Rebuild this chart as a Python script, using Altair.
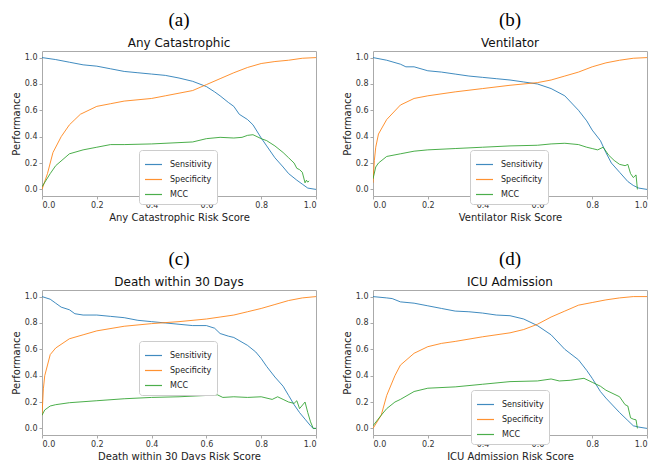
import altair as alt
import pandas as pd

series_names = ["Sensitivity", "Specificity", "MCC"]
series_colors = ["#1f77b4", "#ff7f0e", "#2ca02c"]

# Panel (a) Any Catastrophic
a_sens_x = [0, 0.05, 0.1, 0.15, 0.2, 0.25, 0.3, 0.35, 0.4, 0.45, 0.5, 0.55, 0.6, 0.63, 0.65, 0.68, 0.7, 0.72, 0.75, 0.77, 0.8, 0.82, 0.85, 0.88, 0.9, 0.93, 0.95, 0.97, 1.0]
a_sens_y = [1.0, 0.985, 0.965, 0.945, 0.935, 0.915, 0.895, 0.885, 0.875, 0.865, 0.845, 0.82, 0.78, 0.74, 0.71, 0.66, 0.63, 0.57, 0.53, 0.49, 0.39, 0.33, 0.24, 0.17, 0.12, 0.07, 0.04, 0.01, 0.0]
a_spec_x = [0, 0.02, 0.04, 0.07, 0.1, 0.12, 0.14, 0.2, 0.25, 0.3, 0.4, 0.45, 0.5, 0.55, 0.6, 0.65, 0.7, 0.75, 0.8, 0.85, 0.9, 0.95, 1.0]
a_spec_y = [0.0, 0.12, 0.28, 0.4, 0.49, 0.53, 0.57, 0.63, 0.65, 0.67, 0.69, 0.71, 0.73, 0.75, 0.795, 0.84, 0.885, 0.925, 0.955, 0.97, 0.98, 0.995, 1.0]
a_mcc_x = [0, 0.03, 0.05, 0.1, 0.15, 0.2, 0.25, 0.3, 0.4, 0.5, 0.55, 0.6, 0.65, 0.7, 0.73, 0.75, 0.77, 0.8, 0.82, 0.85, 0.88, 0.9, 0.92, 0.93, 0.94, 0.95, 0.96, 0.965, 0.97, 0.975]
a_mcc_y = [0.02, 0.12, 0.18, 0.27, 0.3, 0.32, 0.34, 0.34, 0.345, 0.355, 0.36, 0.385, 0.395, 0.39, 0.395, 0.41, 0.415, 0.385, 0.37, 0.33, 0.28, 0.24, 0.2, 0.16, 0.15, 0.13, 0.05, 0.07, 0.055, 0.065]

# Panel (b) Ventilator
b_sens_x = [0, 0.05, 0.1, 0.12, 0.15, 0.2, 0.25, 0.3, 0.35, 0.4, 0.45, 0.5, 0.55, 0.6, 0.65, 0.7, 0.75, 0.78, 0.8, 0.83, 0.85, 0.87, 0.9, 0.93, 0.95, 0.97, 1.0]
b_sens_y = [1.0, 0.98, 0.95, 0.93, 0.93, 0.9, 0.89, 0.875, 0.86, 0.85, 0.84, 0.83, 0.815, 0.8, 0.765, 0.71, 0.6, 0.52, 0.45, 0.37, 0.28, 0.2, 0.13, 0.06, 0.03, 0.01, 0.0]
b_spec_x = [0, 0.005, 0.01, 0.02, 0.05, 0.1, 0.15, 0.2, 0.3, 0.4, 0.5, 0.6, 0.65, 0.7, 0.75, 0.8, 0.85, 0.9, 0.95, 1.0]
b_spec_y = [0.05, 0.22, 0.32, 0.42, 0.53, 0.64, 0.69, 0.71, 0.74, 0.765, 0.79, 0.81, 0.83, 0.86, 0.89, 0.93, 0.96, 0.98, 0.995, 1.0]
b_mcc_x = [0, 0.01, 0.02, 0.05, 0.1, 0.15, 0.2, 0.3, 0.4, 0.5, 0.6, 0.65, 0.7, 0.75, 0.78, 0.8, 0.82, 0.84, 0.86, 0.88, 0.9, 0.92, 0.93, 0.94, 0.95, 0.96, 0.965]
b_mcc_y = [0.08, 0.17, 0.2, 0.25, 0.27, 0.29, 0.3, 0.31, 0.32, 0.33, 0.335, 0.345, 0.35, 0.34, 0.32, 0.31, 0.3, 0.32, 0.26, 0.22, 0.19, 0.18, 0.19, 0.12, 0.09, 0.11, 0.0]

# Panel (c) Death within 30 Days
c_sens_x = [0, 0.03, 0.05, 0.07, 0.1, 0.12, 0.15, 0.2, 0.25, 0.3, 0.35, 0.4, 0.45, 0.5, 0.55, 0.6, 0.63, 0.65, 0.68, 0.7, 0.75, 0.78, 0.8, 0.82, 0.85, 0.88, 0.9, 0.92, 0.94, 0.96, 0.98, 0.99, 1.0]
c_sens_y = [1.0, 0.98, 0.95, 0.92, 0.9, 0.87, 0.86, 0.86, 0.85, 0.84, 0.82, 0.81, 0.8, 0.79, 0.78, 0.78, 0.76, 0.72, 0.7, 0.69, 0.63, 0.58, 0.53, 0.47, 0.39, 0.32, 0.25, 0.18, 0.12, 0.07, 0.02, 0.0, 0.0]
c_spec_x = [0, 0.005, 0.01, 0.03, 0.05, 0.1, 0.15, 0.2, 0.3, 0.4, 0.5, 0.6, 0.65, 0.7, 0.75, 0.8, 0.85, 0.9, 0.95, 1.0]
c_spec_y = [0.1, 0.3, 0.4, 0.56, 0.61, 0.68, 0.71, 0.74, 0.775, 0.795, 0.81, 0.83, 0.845, 0.86, 0.885, 0.91, 0.94, 0.97, 0.99, 1.0]
c_mcc_x = [0, 0.01, 0.03, 0.05, 0.1, 0.2, 0.3, 0.4, 0.5, 0.6, 0.64, 0.66, 0.7, 0.75, 0.8, 0.84, 0.86, 0.88, 0.9, 0.92, 0.93, 0.94, 0.96, 0.97, 0.98, 0.99, 1.0]
c_mcc_y = [0.1, 0.14, 0.17, 0.18, 0.195, 0.21, 0.225, 0.235, 0.24, 0.25, 0.255, 0.235, 0.24, 0.235, 0.24, 0.22, 0.24, 0.22, 0.2, 0.19, 0.21, 0.15, 0.2, 0.12, 0.05, 0.0, 0.0]

# Panel (d) ICU Admission
d_sens_x = [0, 0.05, 0.07, 0.1, 0.15, 0.2, 0.25, 0.3, 0.35, 0.4, 0.45, 0.5, 0.55, 0.6, 0.65, 0.7, 0.75, 0.78, 0.8, 0.83, 0.85, 0.9, 0.93, 0.95, 0.97, 1.0]
d_sens_y = [1.0, 0.99, 0.985, 0.96, 0.95, 0.93, 0.91, 0.89, 0.885, 0.875, 0.86, 0.855, 0.83, 0.78, 0.71, 0.6, 0.52, 0.44, 0.38, 0.28, 0.23, 0.12, 0.06, 0.02, 0.01, 0.0]
d_spec_x = [0, 0.03, 0.05, 0.08, 0.1, 0.15, 0.2, 0.25, 0.3, 0.4, 0.5, 0.55, 0.6, 0.65, 0.7, 0.75, 0.8, 0.85, 0.9, 0.95, 1.0]
d_spec_y = [0.0, 0.1, 0.25, 0.4, 0.48, 0.57, 0.62, 0.645, 0.66, 0.695, 0.725, 0.75, 0.79, 0.845, 0.89, 0.935, 0.955, 0.975, 0.99, 1.0, 1.0]
d_mcc_x = [0, 0.03, 0.05, 0.08, 0.1, 0.15, 0.2, 0.3, 0.4, 0.5, 0.6, 0.65, 0.68, 0.72, 0.77, 0.8, 0.83, 0.85, 0.9, 0.92, 0.93, 0.94, 0.95, 0.96, 0.965]
d_mcc_y = [0.02, 0.1, 0.15, 0.2, 0.22, 0.28, 0.305, 0.315, 0.335, 0.355, 0.36, 0.375, 0.36, 0.365, 0.38, 0.35, 0.32, 0.29, 0.24, 0.18, 0.17, 0.08, 0.07, 0.065, 0.0]

panel_letters = ["(a)", "(b)", "(c)", "(d)"]
panel_titles = ["Any Catastrophic", "Ventilator", "Death within 30 Days", "ICU Admission"]
panel_xlabels = ["Any Catastrophic Risk Score", "Ventilator Risk Score",
                 "Death within 30 Days Risk Score", "ICU Admission Risk Score"]
panel_data = [
    [(a_sens_x, a_sens_y), (a_spec_x, a_spec_y), (a_mcc_x, a_mcc_y)],
    [(b_sens_x, b_sens_y), (b_spec_x, b_spec_y), (b_mcc_x, b_mcc_y)],
    [(c_sens_x, c_sens_y), (c_spec_x, c_spec_y), (c_mcc_x, c_mcc_y)],
    [(d_sens_x, d_sens_y), (d_spec_x, d_spec_y), (d_mcc_x, d_mcc_y)],
]
legend_pos = [(97, 99), (97, 99), (97, 51), (98, 100)]

W, H = 274, 145
FONT = "DejaVu Sans"


def make_panel(i):
    rows = []
    for name, (xs, ys) in zip(series_names, panel_data[i]):
        for k, (x, y) in enumerate(zip(xs, ys)):
            rows.append({"score": x, "value": y, "series": name, "k": k})
    df = pd.DataFrame(rows)
    lx, ly = legend_pos[i]
    return alt.Chart(df).mark_line(strokeWidth=1.0, opacity=0.85, clip=True).encode(
        x=alt.X("score:Q", title=panel_xlabels[i],
                scale=alt.Scale(domain=[0, 1], nice=False, zero=False),
                axis=alt.Axis(values=[0, 0.2, 0.4, 0.6, 0.8, 1.0], format=".1f")),
        y=alt.Y("value:Q", title="Performance",
                scale=alt.Scale(domain=[-0.05, 1.05], nice=False, zero=False),
                axis=alt.Axis(values=[0, 0.2, 0.4, 0.6, 0.8, 1.0], format=".1f")),
        color=alt.Color("series:N", scale=alt.Scale(domain=series_names, range=series_colors),
                        legend=alt.Legend(title=None, orient="none", legendX=lx, legendY=ly,
                                          symbolType="stroke", symbolSize=289, symbolStrokeWidth=1.2,
                                          labelFont=FONT, labelFontSize=8, labelColor="#222",
                                          labelOffset=7, rowPadding=1, padding=5,
                                          strokeColor="#cccccc", fillColor="white", cornerRadius=3)),
        order="k:Q",
    ).properties(
        width=W, height=H,
        title=alt.TitleParams(text=panel_letters[i], subtitle=panel_titles[i],
                              font="Liberation Serif", fontSize=19, fontWeight="normal", color="black",
                              subtitleFont=FONT, subtitleFontSize=12, subtitleColor="#111",
                              subtitlePadding=8, offset=2, anchor="middle"),
    )


top = alt.hconcat(make_panel(0), make_panel(1), spacing=24).resolve_scale(color="independent").resolve_legend(color="independent")
bottom = alt.hconcat(make_panel(2), make_panel(3), spacing=24).resolve_scale(color="independent").resolve_legend(color="independent")
chart = alt.vconcat(top, bottom, spacing=26).resolve_legend(color="independent").resolve_scale(color="independent").properties(
    padding={"left": 2, "top": 2, "right": 0, "bottom": 0}
).configure_view(
    stroke="#aaaaaa", strokeWidth=1
).configure_axis(
    labelFont=FONT, labelFontSize=8, labelColor="#333", titleFont=FONT, titleFontSize=10,
    titleColor="#222", titleFontWeight="normal", grid=False, domain=False, tickColor="#aaa",
    tickSize=3, labelPadding=2, titlePadding=3
)

chart.save("out.html", embed_options={"renderer": "svg", "actions": False})
